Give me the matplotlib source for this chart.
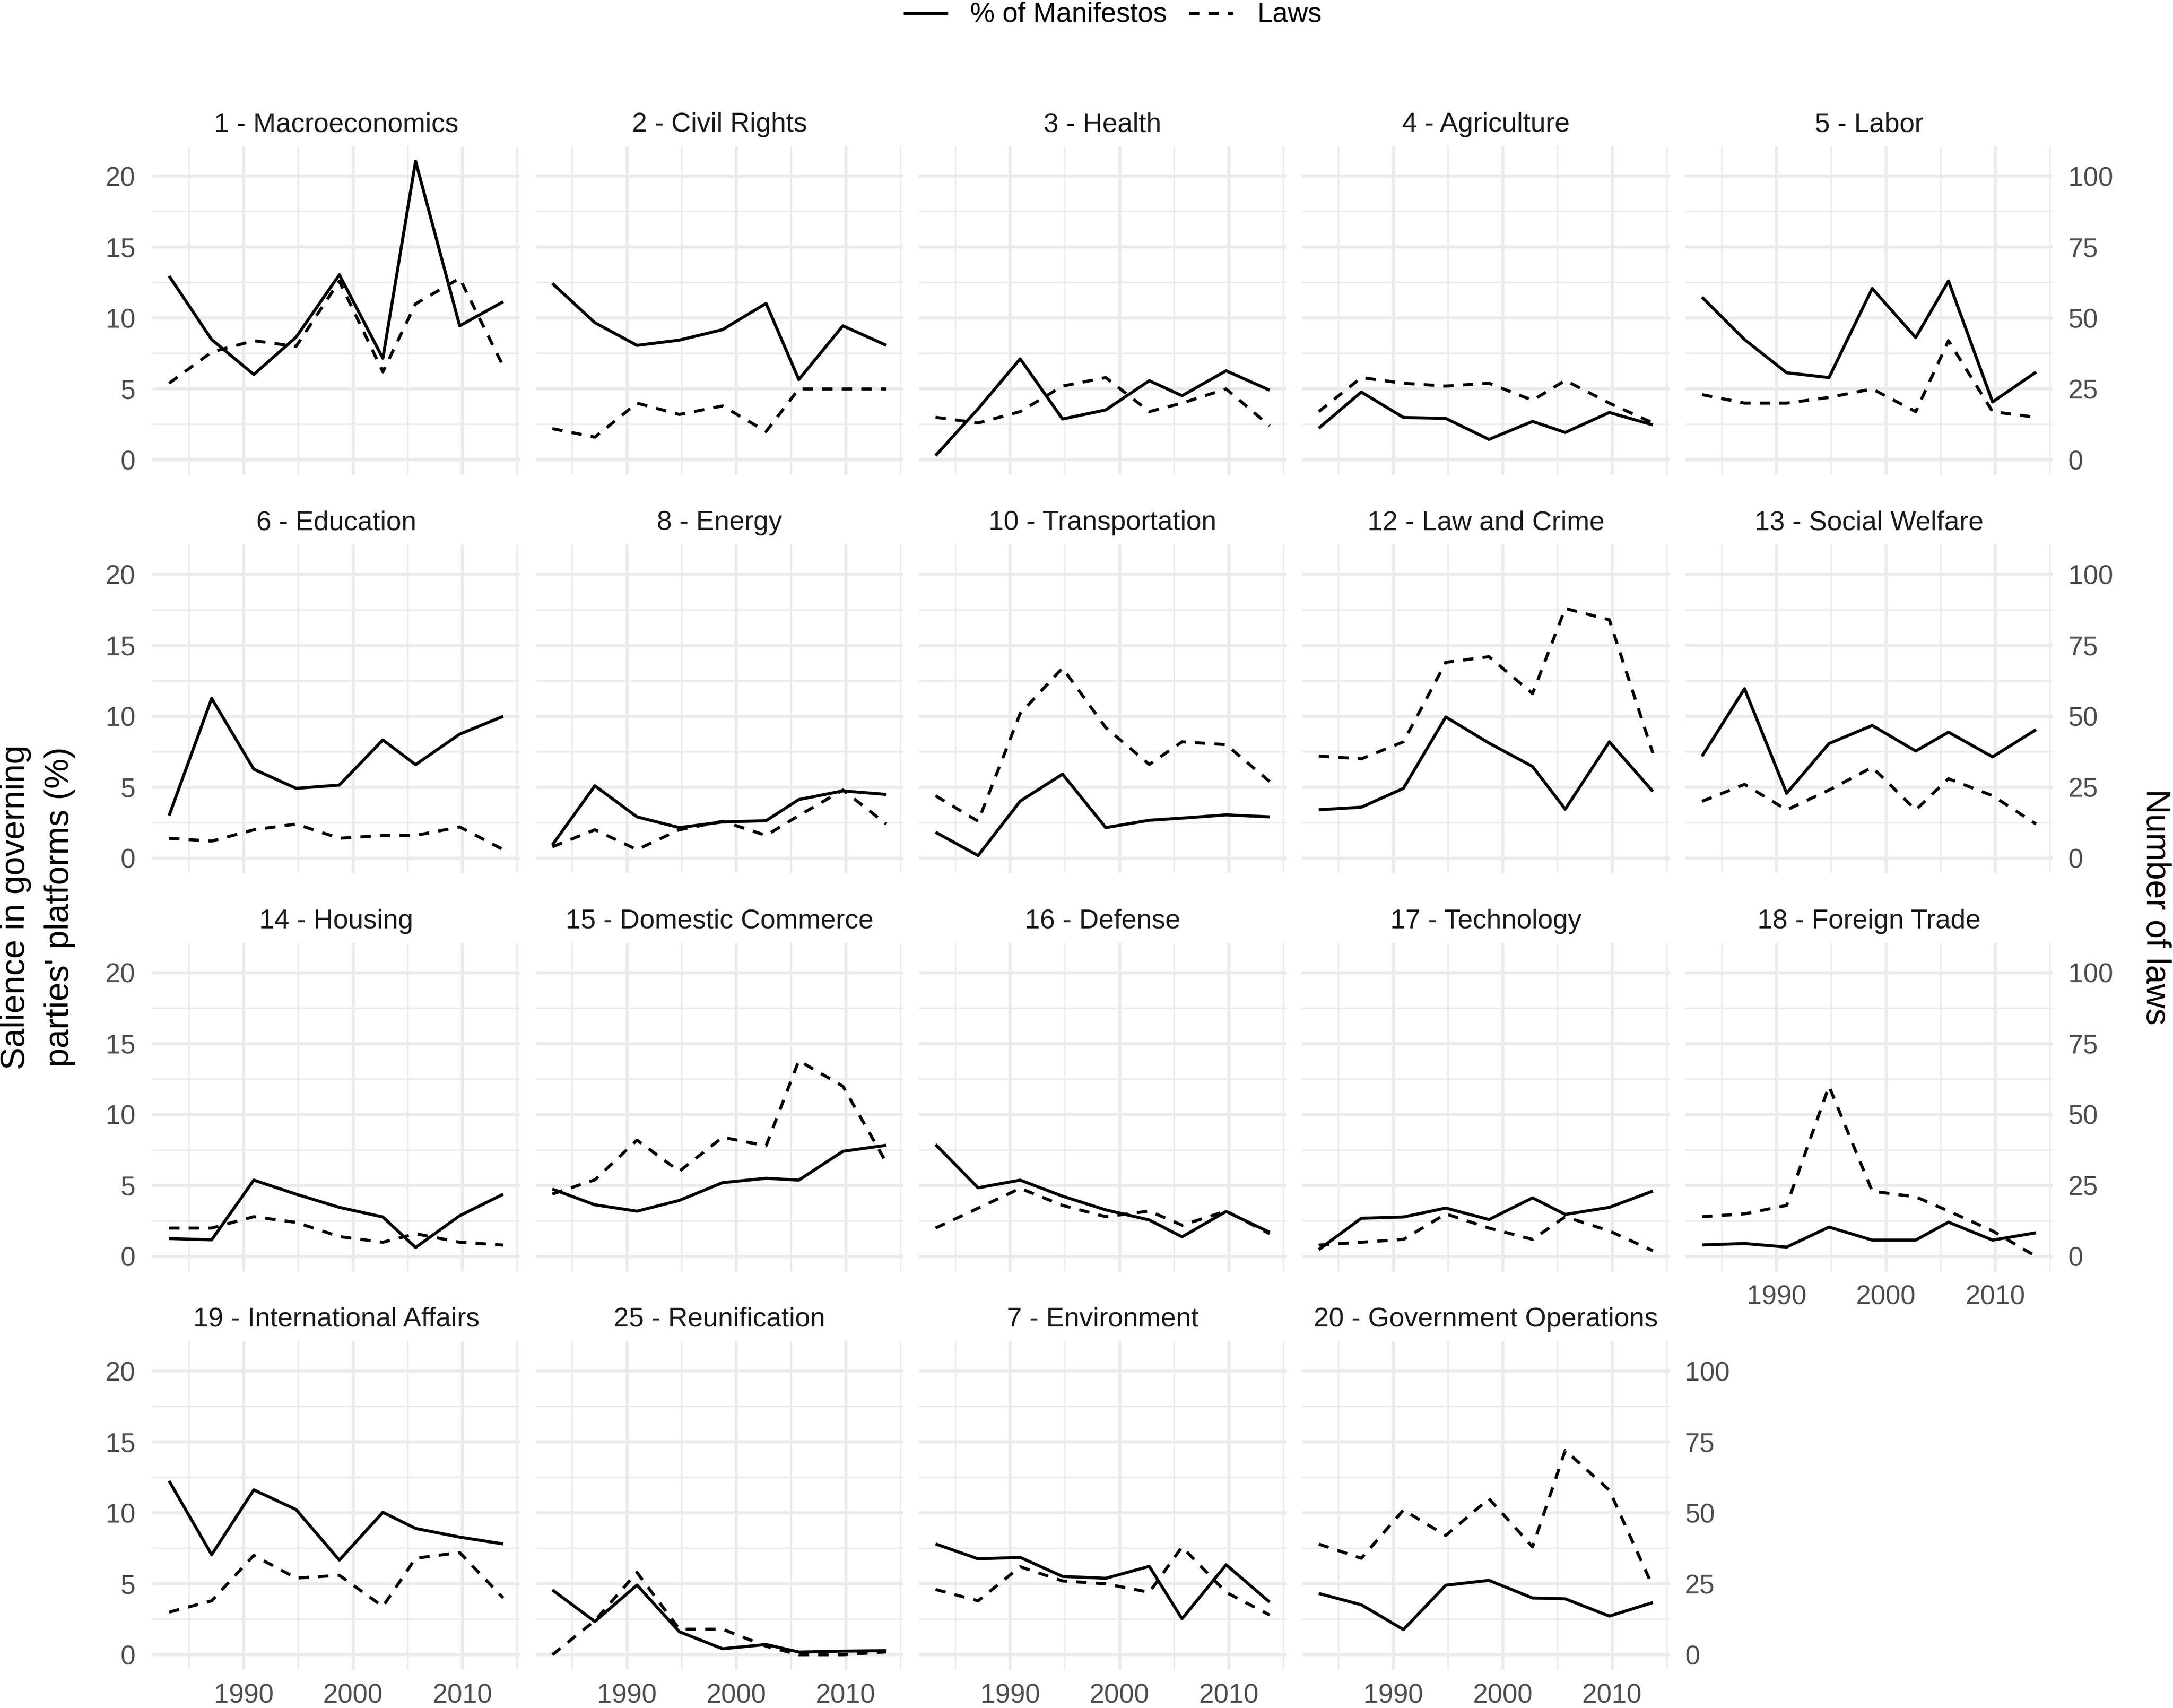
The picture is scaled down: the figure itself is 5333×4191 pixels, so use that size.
import matplotlib
matplotlib.use('Agg')
import matplotlib.pyplot as plt
from matplotlib.lines import Line2D
import numpy as np

plt.rcParams['font.family'] = ['Liberation Sans', 'DejaVu Sans']

# ---------------- data ----------------
# German federal election dates (decimal years)
years = [1983.18, 1987.07, 1990.92, 1994.79, 1998.74, 2002.72, 2005.71, 2009.74, 2013.72]

topics = ["1 - Macroeconomics", "2 - Civil Rights", "3 - Health", "4 - Agriculture", "5 - Labor",
          "6 - Education", "8 - Energy", "10 - Transportation", "12 - Law and Crime", "13 - Social Welfare",
          "14 - Housing", "15 - Domestic Commerce", "16 - Defense", "17 - Technology", "18 - Foreign Trade",
          "19 - International Affairs", "25 - Reunification", "7 - Environment", "20 - Government Operations"]

# % of manifestos (left axis)
manifestos = [
    [12.96, 8.48, 6.02, 8.65, 13.05, 7.16, 21.05, 9.45, 11.15],
    [12.44, 9.67, 8.07, 8.44, 9.18, 11.03, 5.66, 9.45, 8.07],
    [0.30, 3.60, 7.12, 2.88, 3.52, 5.58, 4.52, 6.28, 4.91],
    [2.23, 4.78, 2.99, 2.92, 1.44, 2.71, 1.93, 3.34, 2.46],
    [11.47, 8.48, 6.14, 5.80, 12.08, 8.62, 12.61, 4.08, 6.19],
    [3.00, 11.26, 6.27, 4.92, 5.15, 8.33, 6.59, 8.74, 10.00],
    [0.93, 5.10, 2.91, 2.15, 2.55, 2.64, 4.13, 4.74, 4.49],
    [1.83, 0.18, 4.02, 5.92, 2.15, 2.67, 2.82, 3.05, 2.91],
    [3.41, 3.59, 4.92, 9.95, 8.11, 6.46, 3.45, 8.20, 4.70],
    [7.18, 11.94, 4.57, 8.08, 9.35, 7.55, 8.88, 7.14, 9.06],
    [1.26, 1.17, 5.38, 4.39, 3.46, 2.78, 0.63, 2.87, 4.39],
    [4.75, 3.64, 3.19, 3.95, 5.20, 5.51, 5.38, 7.41, 7.84],
    [7.89, 4.84, 5.38, 4.25, 3.28, 2.57, 1.38, 3.17, 1.70],
    [0.48, 2.69, 2.78, 3.41, 2.60, 4.13, 2.96, 3.46, 4.61],
    [0.81, 0.91, 0.66, 2.07, 1.15, 1.15, 2.42, 1.15, 1.67],
    [12.25, 7.05, 11.62, 10.23, 6.67, 10.04, 8.90, 8.29, 7.81],
    [4.57, 2.34, 4.91, 1.62, 0.42, 0.72, 0.19, 0.25, 0.29],
    [7.81, 6.76, 6.86, 5.52, 5.39, 6.23, 2.53, 6.34, 3.71],
    [4.32, 3.52, 1.77, 4.90, 5.24, 4.00, 3.94, 2.72, 3.68],
]

# number of laws (right axis)
laws = [
    [27, 38, 42, 40, 63, 31, 55, 64, 33],
    [11, 8, 20, 16, 19, 10, 25, 25, 25],
    [15, 13, 17, 26, 29, 17, 20, 25, 12],
    [17, 29, 27, 26, 27, 21, 28, 20, 13],
    [23, 20, 20, 22, 25, 17, 42, 17, 15],
    [7, 6, 10, 12, 7, 8, 8, 11, 3],
    [4, 10, 3, 10, 13, 8, 15, 24, 12],
    [22, 13, 51, 67, 46, 33, 41, 40, 27],
    [36, 35, 41, 69, 71, 58, 88, 84, 37],
    [20, 26, 17, 24, 32, 17, 28, 22, 12],
    [10, 10, 14, 12, 7, 5, 8, 5, 4],
    [22, 27, 41, 30, 42, 39, 69, 60, 33],
    [10, 17, 24, 18, 14, 16, 11, 16, 8],
    [4, 5, 6, 15, 10, 6, 14, 9, 2],
    [14, 15, 18, 60, 23, 21, 16, 9, 0],
    [15, 19, 35, 27, 28, 17, 34, 36, 20],
    [0, 12, 29, 9, 9, 3, 0, 0, 1],
    [23, 19, 31, 26, 25, 22, 38, 22, 14],
    [39, 34, 51, 42, 55, 38, 72, 58, 24],
]

left_ticks = [0, 5, 10, 15, 20]
right_ticks = [0, 25, 50, 75, 100]
x_ticks = [1990, 2000, 2010]
x_minor = [1985, 1995, 2005, 2015]
y_minor = [2.5, 7.5, 12.5, 17.5]
LAW_SCALE = 5.0

# ---------------- layout ----------------
W, H, DPI = 5333, 4191, 300
fig = plt.figure(figsize=(W / DPI, H / DPI), dpi=DPI)
fig.patch.set_facecolor('white')

left0, pitch_x, pw = 374, 940.5, 902
top0, pitch_y, ph = 359, 977.3, 806

grid_col = '#EBEBEB'
tick_col = '#4D4D4D'
LW = 1.8
FS_TICK = 15.8
FS_STRIP = 16
FS_TITLE = 20

# shared limits (ggplot-like 5% expansion)
allvals = np.concatenate([np.ravel(manifestos), np.ravel(laws) / LAW_SCALE])
ymin, ymax = min(0, allvals.min()), allvals.max()
yr = ymax - ymin
ylo, yhi = ymin - 0.05 * yr, ymax + 0.05 * yr
xr = years[-1] - years[0]
xlo, xhi = years[0] - 0.05 * xr, years[-1] + 0.05 * xr

n = len(topics)
for i in range(n):
    r, c = divmod(i, 5)
    x0 = left0 + c * pitch_x
    y0 = top0 + r * pitch_y
    ax = fig.add_axes([x0 / W, 1 - (y0 + ph) / H, pw / W, ph / H])
    ax.set_facecolor('none')
    ax.set_xlim(xlo, xhi)
    ax.set_ylim(ylo, yhi)
    ax.set_xticks(x_ticks)
    ax.set_xticks(x_minor, minor=True)
    ax.set_yticks(left_ticks)
    ax.set_yticks(y_minor, minor=True)
    ax.grid(which='major', color=grid_col, lw=LW)
    ax.grid(which='minor', color=grid_col, lw=LW / 2)
    ax.set_axisbelow(True)
    for s in ax.spines.values():
        s.set_visible(False)
    show_x = (r == 3) or (i == 14)
    show_left = (c == 0)
    show_right = (c == 4) or (i == n - 1)
    ax.tick_params(axis='both', which='both', length=0, labelsize=FS_TICK, labelcolor=tick_col)
    ax.tick_params(axis='y', pad=10, labelleft=show_left)
    ax.tick_params(axis='x', pad=8, labelbottom=show_x)

    ax.plot(years, manifestos[i], color='black', lw=LW, solid_joinstyle='round',
            solid_capstyle='butt', zorder=3)

    ax2 = ax.twinx()
    ax2.set_ylim(ylo * LAW_SCALE, yhi * LAW_SCALE)
    ax2.set_yticks(right_ticks)
    ax2.grid(False)
    for s in ax2.spines.values():
        s.set_visible(False)
    ax2.tick_params(axis='y', which='both', length=0, labelsize=FS_TICK, labelcolor=tick_col,
                    pad=9, labelright=show_right)
    ax2.plot(years, laws[i], color='black', lw=LW, linestyle=(0, (3.4, 3.0)),
             dash_capstyle='butt', dash_joinstyle='round', zorder=3)

    ax.text(0.5, 1 + 53 / ph, topics[i], transform=ax.transAxes, ha='center', va='center',
            fontsize=FS_STRIP, color='#1A1A1A')

# axis titles
fig.text(92 / W, 1 - 2226 / H, "Salience in governing\nparties' platforms (%)", rotation=90,
         ha='center', va='center', multialignment='center', fontsize=FS_TITLE, color='black',
         linespacing=1.5)
fig.text(5290 / W, 1 - 2226 / H, "Number of laws", rotation=270, ha='center', va='center',
         fontsize=FS_TITLE, color='black')

# legend
ly = 1 - 33 / H
fig.add_artist(Line2D([2218 / W, 2327 / W], [ly, ly], transform=fig.transFigure,
                      color='black', lw=LW, solid_capstyle='butt'))
fig.text(2381 / W, 1 - 36 / H, "% of Manifestos", ha='left', va='center', fontsize=16.3)
fig.add_artist(Line2D([2918 / W, 3027 / W], [ly, ly], transform=fig.transFigure,
                      color='black', lw=LW, linestyle=(0, (3.4, 3.0)), dash_capstyle='butt'))
fig.text(3085 / W, 1 - 36 / H, "Laws", ha='left', va='center', fontsize=16.3)

fig.savefig('out.png', dpi=DPI, facecolor='white')
